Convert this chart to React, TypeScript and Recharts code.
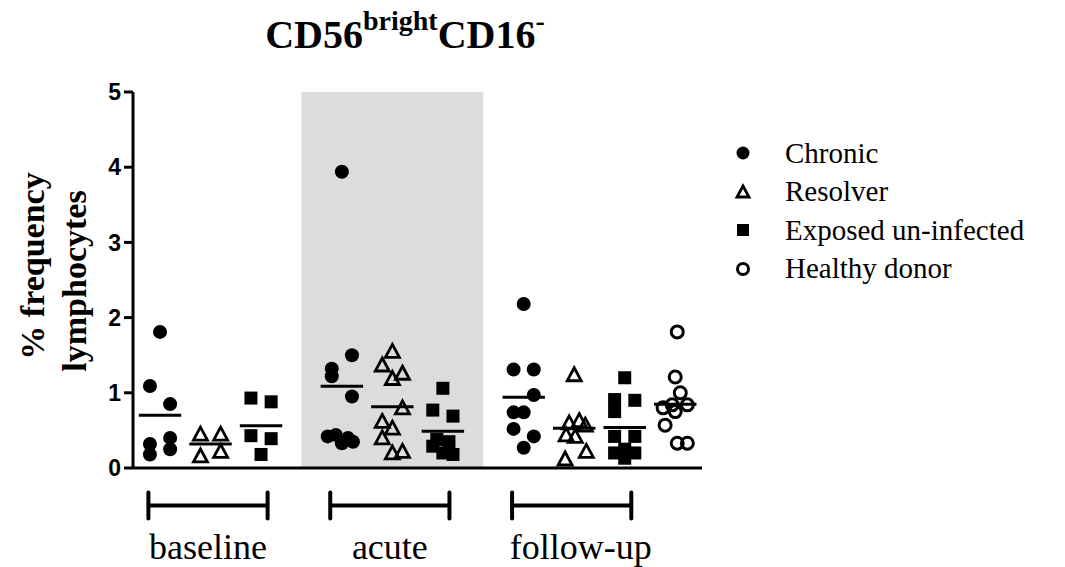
import React from 'react';
import { ScatterChart, Scatter, XAxis, YAxis, ReferenceArea, ReferenceLine, Legend } from 'recharts';

// categories
const groupNames = ['baseline', 'acute', 'follow-up'];
const seriesNames = ['Chronic', 'Resolver', 'Exposed un-infected', 'Healthy donor'];

// column centres on the numeric x axis (one unit = one column)
const baselineCols = [0, 1, 2];
const acuteCols = [3.6, 4.6, 5.6];
const followUpCols = [7.2, 8.2, 9.2];
const healthyCol = 10.2;

// % frequency values, with the scatter lane of each point
const baselineChronic = [1.81, 1.09, 0.85, 0.4, 0.32, 0.25, 0.18];
const baselineChronicLane = [0, -1, 1, 1, -1, 1, -1];
const baselineResolver = [0.45, 0.45, 0.22, 0.16];
const baselineResolverLane = [-1, 1, 1, -1];
const baselineExposed = [0.93, 0.88, 0.43, 0.39, 0.18];
const baselineExposedLane = [-1, 1, -1, 1, 0];

const acuteChronic = [3.94, 1.5, 1.32, 1.22, 0.95, 0.42, 0.44, 0.33, 0.4, 0.35];
const acuteChronicLane = [0, 1, -1, -1, 1, -1.4, -0.6, 0, 0.6, 1.1];
const acuteResolver = [1.55, 1.37, 1.26, 1.19, 0.8, 0.62, 0.53, 0.4, 0.2, 0.22];
const acuteResolverLane = [0, -1, 1, 0, 1, -1, 0, -1, 0, 1];
const acuteExposed = [1.06, 0.77, 0.69, 0.38, 0.35, 0.29, 0.2, 0.18];
const acuteExposedLane = [0, -1, 1, -0.6, 0.6, -1, 0, 1];

const followUpChronic = [2.18, 1.31, 1.31, 0.97, 0.74, 0.74, 0.52, 0.42, 0.27];
const followUpChronicLane = [0, -1, 1, 1, -1, 0, -1, 1, 0];
const followUpResolver = [1.24, 0.63, 0.6, 0.57, 0.44, 0.42, 0.22, 0.12];
const followUpResolverLane = [0, 0.5, -0.5, 1.1, -0.8, 0.1, 1.2, -0.9];
const followUpExposed = [1.2, 0.91, 0.9, 0.75, 0.42, 0.42, 0.25, 0.2, 0.2, 0.13];
const followUpExposedLane = [0, -1, 1, -1, -1, 1, 0, -1, 1, 0];

const healthyDonor = [1.81, 1.21, 1.0, 0.84, 0.84, 0.8, 0.75, 0.57, 0.33, 0.33];
const healthyDonorLane = [0.2, 0, 0.5, -0.3, 1.2, -1.2, 0, -1, 0.2, 1.2];

const yTicks = [0, 1, 2, 3, 4, 5];

const LANE = 0.2;
const MEAN_HALF = 0.42;

type Col = { pos: number; values: number[]; lanes: number[] };

const chronicCols: Col[] = [
  { pos: baselineCols[0], values: baselineChronic, lanes: baselineChronicLane },
  { pos: acuteCols[0], values: acuteChronic, lanes: acuteChronicLane },
  { pos: followUpCols[0], values: followUpChronic, lanes: followUpChronicLane },
];
const resolverCols: Col[] = [
  { pos: baselineCols[1], values: baselineResolver, lanes: baselineResolverLane },
  { pos: acuteCols[1], values: acuteResolver, lanes: acuteResolverLane },
  { pos: followUpCols[1], values: followUpResolver, lanes: followUpResolverLane },
];
const exposedCols: Col[] = [
  { pos: baselineCols[2], values: baselineExposed, lanes: baselineExposedLane },
  { pos: acuteCols[2], values: acuteExposed, lanes: acuteExposedLane },
  { pos: followUpCols[2], values: followUpExposed, lanes: followUpExposedLane },
];
const healthyCols: Col[] = [{ pos: healthyCol, values: healthyDonor, lanes: healthyDonorLane }];

const allCols = [...chronicCols, ...resolverCols, ...exposedCols, ...healthyCols];
const groupCols = [baselineCols, acuteCols, followUpCols];

const toPoints = (cols: Col[]) =>
  cols.flatMap((c) => c.values.map((v, i) => ({ x: c.pos + c.lanes[i] * LANE, y: v })));

const mean = (arr: number[]) => arr.reduce((s, v) => s + v, 0) / arr.length;

const serif = '"Liberation Serif", "Times New Roman", serif';
const sans = '"Liberation Sans", Arial, sans-serif';

const Dot = (p: any) => <circle cx={p.cx} cy={p.cy} r={7} fill="#000" />;
const OpenDot = (p: any) => <circle cx={p.cx} cy={p.cy} r={6} fill="none" stroke="#000" strokeWidth={3} />;
const Square = (p: any) => <rect x={p.cx - 6.5} y={p.cy - 6.5} width={13} height={13} fill="#000" />;
const Triangle = (p: any) => (
  <polygon
    points={`${p.cx},${p.cy - 7} ${p.cx + 7},${p.cy + 6} ${p.cx - 7},${p.cy + 6}`}
    fill="none"
    stroke="#000"
    strokeWidth={2.8}
  />
);

const legendIcons = [
  <circle cx={10} cy={10} r={6.5} fill="#000" />,
  <polygon points="10,4 16,15 4,15" fill="none" stroke="#000" strokeWidth={2.8} />,
  <rect x={4} y={4} width={12} height={12} fill="#000" />,
  <circle cx={10} cy={10} r={5.5} fill="none" stroke="#000" strokeWidth={3} />,
];

const LegendContent = () => (
  <div style={{ fontFamily: serif, fontSize: 29, color: '#000' }}>
    {seriesNames.map((name, i) => (
      <div key={name} style={{ display: 'flex', alignItems: 'center', height: 38.5, whiteSpace: 'nowrap' }}>
        <svg width={20} height={20} style={{ marginRight: 32 }}>
          {legendIcons[i]}
        </svg>
        <span>{name}</span>
      </div>
    ))}
  </div>
);

const GroupBar = (p: any) => {
  const { x1, x2, y1 } = p;
  return (
    <g>
      <line x1={x1} y1={y1} x2={x2} y2={y1} stroke="#000" strokeWidth={4} />
      <line x1={x1} y1={y1 - 13} x2={x1} y2={y1 + 13} stroke="#000" strokeWidth={4} strokeLinecap="round" />
      <line x1={x2} y1={y1 - 13} x2={x2} y2={y1 + 13} stroke="#000" strokeWidth={4} strokeLinecap="round" />
      <text
        x={(x1 + x2) / 2 + (p.dx || 0)}
        y={y1 + 53}
        textAnchor="middle"
        fontFamily={serif}
        fontSize={36}
        fill="#000"
      >
        {p.name}
      </text>
    </g>
  );
};

export default function App() {
  const xTicks = [...baselineCols, ...acuteCols, ...followUpCols, healthyCol];
  return (
    <div style={{ position: 'absolute', left: 0, top: 0, width: 1065, height: 567, background: '#fff' }}>
      <ScatterChart width={1065} height={567} margin={{ top: 92, right: 363, bottom: 69, left: 73 }}>
        <ReferenceArea x1={2.8} x2={6.4} y1={0} y2={5} fill="#dcdcdc" fillOpacity={1} stroke="none" />
        <XAxis
          type="number"
          dataKey="x"
          domain={[-0.535, 10.73]}
          allowDataOverflow
          ticks={xTicks}
          tick={false}
          tickSize={13}
          height={30}
          axisLine={{ stroke: '#000', strokeWidth: 3 }}
          tickLine={{ stroke: '#000', strokeWidth: 3 }}
        />
        <YAxis
          type="number"
          dataKey="y"
          domain={[0, 5]}
          allowDataOverflow
          ticks={yTicks}
          width={60}
          tickSize={9}
          tickMargin={3}
          axisLine={{ stroke: '#000', strokeWidth: 3 }}
          tickLine={{ stroke: '#000', strokeWidth: 3 }}
          tick={{ fontFamily: sans, fontWeight: 'bold', fontSize: 23, fill: '#000' }}
        />
        <Scatter name={seriesNames[0]} data={toPoints(chronicCols)} shape={Dot} isAnimationActive={false} />
        <Scatter name={seriesNames[1]} data={toPoints(resolverCols)} shape={Triangle} isAnimationActive={false} />
        <Scatter name={seriesNames[2]} data={toPoints(exposedCols)} shape={Square} isAnimationActive={false} />
        <Scatter name={seriesNames[3]} data={toPoints(healthyCols)} shape={OpenDot} isAnimationActive={false} />
        {allCols.map((c, i) => (
          <ReferenceLine
            key={`m${i}`}
            segment={[
              { x: c.pos - MEAN_HALF, y: mean(c.values) },
              { x: c.pos + MEAN_HALF, y: mean(c.values) },
            ]}
            stroke="#000"
            strokeWidth={3}
          />
        ))}
        {groupCols.map((cols, i) => (
          <ReferenceLine
            key={`g${i}`}
            segment={[
              { x: cols[0] - 0.23, y: -0.5 },
              { x: cols[cols.length - 1] + 0.13, y: -0.5 },
            ]}
            ifOverflow="visible"
            shape={(p: any) => <GroupBar {...p} name={groupNames[i]} dx={i === 2 ? 9 : 0} />}
          />
        ))}
        <Legend
          layout="vertical"
          align="center"
          verticalAlign="middle"
          content={<LegendContent />}
          wrapperStyle={{ left: 733, top: 134, width: 330 }}
        />
      </ScatterChart>
      <svg
        width={1065}
        height={567}
        style={{ position: 'absolute', left: 0, top: 0, pointerEvents: 'none' }}
      >
        <text x={405} y={48} textAnchor="middle" fontFamily={serif} fontWeight="bold" fontSize={40} fill="#000">
          CD56
          <tspan fontSize={28} dy={-18}>bright</tspan>
          <tspan dy={18}>CD16</tspan>
          <tspan fontSize={28} dy={-18}>-</tspan>
        </text>
        <text
          x={44}
          y={266}
          transform="rotate(-90 44 266)"
          textAnchor="middle"
          fontFamily={serif}
          fontWeight="bold"
          fontSize={34}
          fill="#000"
        >
          % frequency
        </text>
        <text
          x={86}
          y={281}
          transform="rotate(-90 86 281)"
          textAnchor="middle"
          fontFamily={serif}
          fontWeight="bold"
          fontSize={34}
          fill="#000"
        >
          lymphocytes
        </text>
      </svg>
    </div>
  );
}
